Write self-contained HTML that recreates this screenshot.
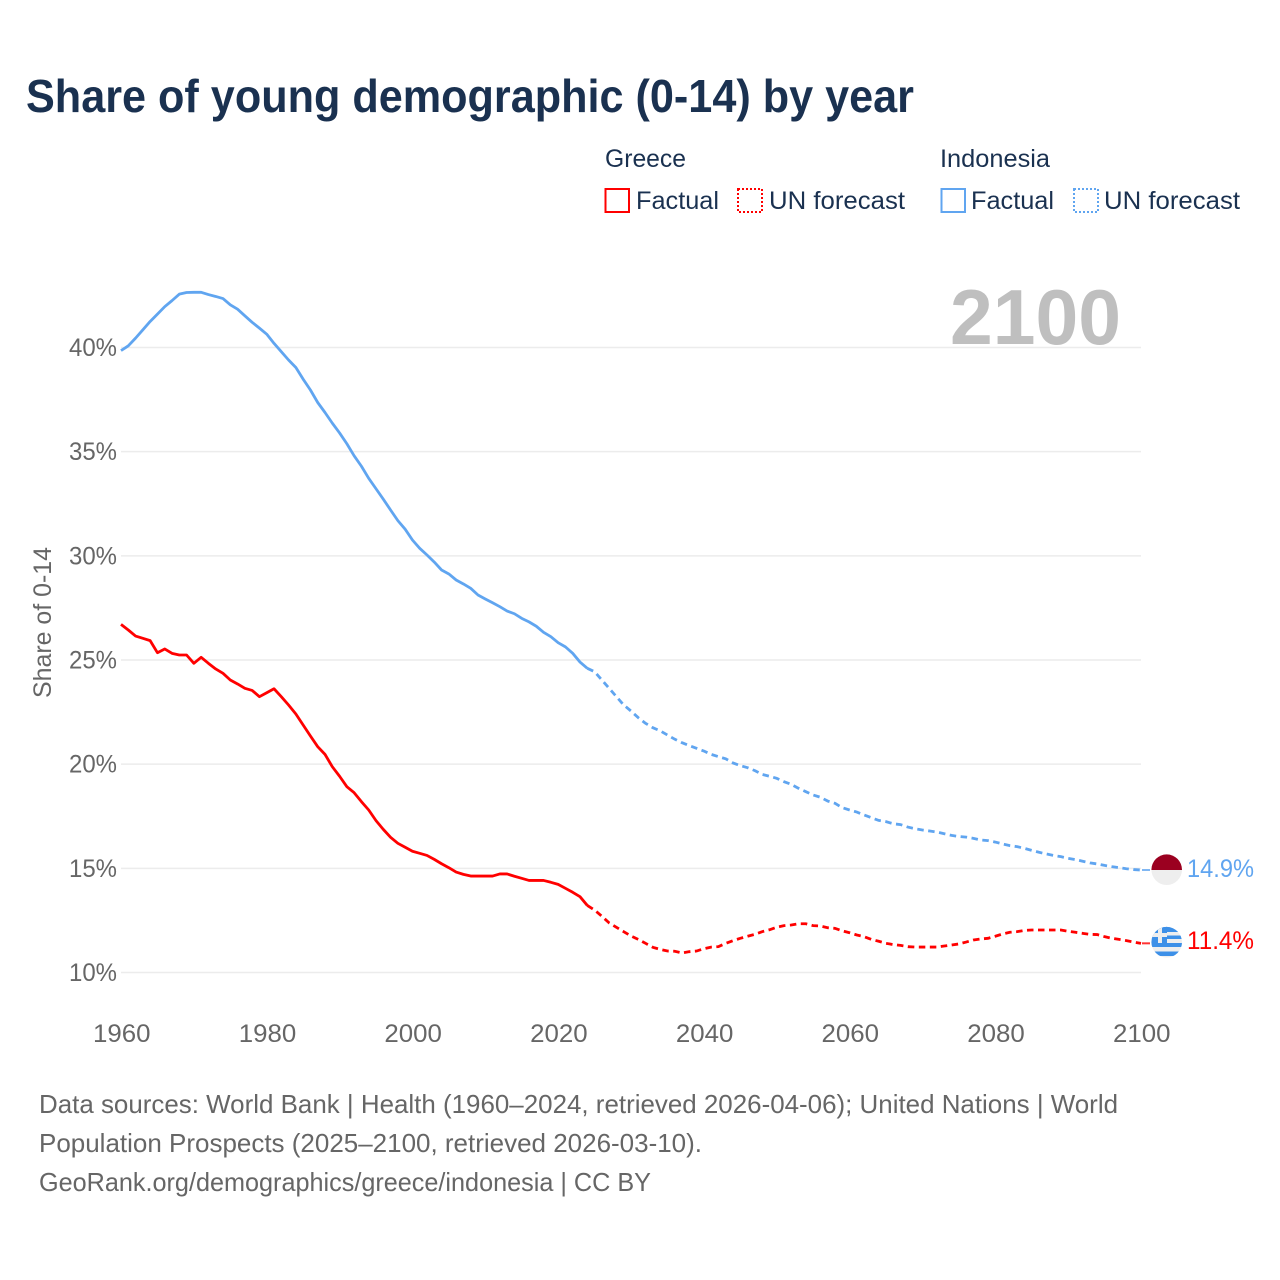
<!DOCTYPE html>
<html lang="en">
<head>
<meta charset="utf-8">
<title>Share of young demographic (0-14) by year</title>
<style>
html,body{margin:0;padding:0;background:#fff}
svg{display:block}
text{font-family:"Liberation Sans",sans-serif}
</style>
</head>
<body>
<svg id="chart" xmlns="http://www.w3.org/2000/svg" width="1280" height="1280" viewBox="0 0 1280 1280">
  <defs>
    <clipPath id="clip-id"><circle cx="1166.700" cy="869.700" r="15.300"/></clipPath>
    <clipPath id="clip-gr"><circle cx="1166.700" cy="942.200" r="15.300"/></clipPath>
  </defs>
  <rect width="1280" height="1280" fill="#fff"/>
  <text x="26" y="112" font-size="46" font-weight="700" fill="#1a3150" textLength="888" lengthAdjust="spacingAndGlyphs">Share of young demographic (0-14) by year</text>

  <g font-size="25" fill="#1a3150">
    <text x="605" y="167" textLength="81" lengthAdjust="spacingAndGlyphs">Greece</text>
    <rect x="605.500" y="189" width="23.500" height="23" fill="none" stroke="#ff0000" stroke-width="2"/>
    <text x="636" y="209" textLength="83" lengthAdjust="spacingAndGlyphs">Factual</text>
    <rect x="738" y="189" width="24" height="23" fill="none" stroke="#ff0000" stroke-width="2" stroke-dasharray="2 2"/>
    <text x="769" y="209" textLength="136" lengthAdjust="spacingAndGlyphs">UN forecast</text>
    <text x="940" y="167" textLength="110" lengthAdjust="spacingAndGlyphs">Indonesia</text>
    <rect x="941.500" y="189" width="23.500" height="23" fill="none" stroke="#60a5f0" stroke-width="2"/>
    <text x="971" y="209" textLength="83" lengthAdjust="spacingAndGlyphs">Factual</text>
    <rect x="1074" y="189" width="24" height="23" fill="none" stroke="#60a5f0" stroke-width="2" stroke-dasharray="2 2"/>
    <text x="1104" y="209" textLength="136" lengthAdjust="spacingAndGlyphs">UN forecast</text>
  </g>

  <g id="grid"></g>
  <text x="950" y="344" font-size="78" font-weight="700" fill="#bfbfbf" textLength="171" lengthAdjust="spacingAndGlyphs">2100</text>
  <g id="yticks" font-size="25" fill="#666"></g>
  <g id="xticks" font-size="25" fill="#666"></g>
  <text transform="translate(51 698) rotate(-90)" font-size="25" fill="#666" textLength="151" lengthAdjust="spacingAndGlyphs">Share of 0-14</text>
  <g id="series"></g>

  <g clip-path="url(#clip-id)">
    <rect x="1151" y="854" width="32" height="16" fill="#9b0020"/>
    <rect x="1151" y="870" width="32" height="16" fill="#eeeeee"/>
  </g>
  <g clip-path="url(#clip-gr)">
    <rect x="1151" y="926" width="32" height="33" fill="#eeeeee"/>
    <rect x="1151" y="926" width="32" height="6" fill="#3d90e8"/>
    <rect x="1151" y="935.500" width="32" height="3.500" fill="#3d90e8"/>
    <rect x="1151" y="943" width="32" height="4" fill="#3d90e8"/>
    <rect x="1151" y="951.500" width="32" height="4.500" fill="#3d90e8"/>
    <rect x="1151" y="926" width="16" height="17" fill="#3d90e8"/>
    <rect x="1158" y="926" width="4" height="17" fill="#eeeeee"/>
    <rect x="1151" y="933" width="16" height="4" fill="#eeeeee"/>
  </g>
  <g id="endlabels" font-size="25"></g>

  <g font-size="26" fill="#666">
    <text x="39" y="1113" textLength="1079" lengthAdjust="spacingAndGlyphs">Data sources: World Bank | Health (1960–2024, retrieved 2026-04-06); United Nations | World</text>
    <text x="39" y="1152" textLength="663" lengthAdjust="spacingAndGlyphs">Population Prospects (2025–2100, retrieved 2026-03-10).</text>
    <text x="39" y="1191" textLength="612" lengthAdjust="spacingAndGlyphs">GeoRank.org/demographics/greece/indonesia | CC BY</text>
  </g>
</svg>
<script>
const startYear = 1960;
const lastFactualYear = 2024;
const xTickYears = [1960, 1980, 2000, 2020, 2040, 2060, 2080, 2100];
const yTickValues = [10, 15, 20, 25, 30, 35, 40];
const greeceValues = [
26.71,26.44,26.15,26.04,25.93,25.35,25.53,25.32,25.24,25.24,
24.84,25.13,24.84,24.57,24.36,24.04,23.85,23.64,23.54,23.24,
23.43,23.62,23.24,22.84,22.41,21.88,21.35,20.84,20.47,19.88,
19.42,18.92,18.63,18.20,17.80,17.29,16.87,16.49,16.20,16.01,
15.82,15.72,15.62,15.43,15.22,15.03,14.82,14.71,14.63,14.63,
14.63,14.63,14.73,14.73,14.62,14.52,14.42,14.42,14.42,14.33,
14.23,14.04,13.85,13.64,13.22,13.00,12.70,12.38,12.17,11.96,
11.75,11.59,11.40,11.21,11.11,11.03,11.02,10.94,11.00,11.03,
11.14,11.22,11.24,11.40,11.53,11.64,11.74,11.83,11.96,12.05,
12.17,12.25,12.28,12.34,12.34,12.25,12.23,12.15,12.12,12.00,
11.91,11.80,11.72,11.59,11.50,11.40,11.34,11.30,11.24,11.22,
11.22,11.22,11.22,11.27,11.32,11.37,11.46,11.56,11.61,11.64,
11.74,11.85,11.93,11.96,12.02,12.04,12.04,12.04,12.04,12.04,
11.98,11.93,11.88,11.83,11.82,11.72,11.64,11.59,11.53,11.46,11.40];
const indonesiaValues = [
39.85,40.08,40.45,40.85,41.25,41.60,41.96,42.25,42.56,42.64,
42.65,42.65,42.54,42.45,42.35,42.05,41.84,41.52,41.21,40.93,
40.64,40.20,39.80,39.40,39.04,38.48,37.96,37.36,36.88,36.37,
35.90,35.38,34.80,34.30,33.72,33.22,32.72,32.20,31.69,31.28,
30.76,30.36,30.04,29.70,29.32,29.13,28.84,28.65,28.44,28.12,
27.93,27.75,27.56,27.35,27.22,27.00,26.83,26.62,26.33,26.12,
25.83,25.63,25.32,24.90,24.60,24.44,24.04,23.64,23.24,22.84,
22.55,22.23,21.96,21.75,21.60,21.40,21.20,21.03,20.89,20.76,
20.63,20.47,20.36,20.26,20.06,19.93,19.83,19.69,19.51,19.42,
19.32,19.16,19.03,18.84,18.68,18.52,18.41,18.23,18.12,17.91,
17.80,17.70,17.56,17.43,17.30,17.24,17.14,17.10,16.98,16.90,
16.84,16.79,16.74,16.66,16.58,16.53,16.50,16.44,16.36,16.33,
16.26,16.17,16.09,16.04,15.96,15.86,15.77,15.69,15.62,15.56,
15.48,15.42,15.34,15.26,15.21,15.14,15.08,15.03,14.98,14.94,14.92];

const SVG_NS = 'http://www.w3.org/2000/svg';
const xOf = function (year) { return 121 + (year - 1960) * (1141 - 121) / 140; };
const yOf = function (value) { return 972.5 - (value - 10) * (972.5 - 347.5) / 30; };
const make = function (tag, parent) {
  const node = document.createElementNS(SVG_NS, tag);
  parent.appendChild(node);
  return node;
};
const pointsFor = function (values, fromIndex, toIndex) {
  const out = [];
  for (let i = fromIndex; i <= toIndex; i++) {
    out.push(xOf(startYear + i).toFixed(2) + ',' + yOf(values[i]).toFixed(2));
  }
  return out.join(' ');
};

const gridLayer = document.getElementById('grid');
const yTickLayer = document.getElementById('yticks');
yTickValues.forEach(function (value) {
  const line = make('line', gridLayer);
  
  
  line.setAttribute('x1', 121);
  line.setAttribute('x2', 1141);
  line.setAttribute('y1', yOf(value));
  line.setAttribute('y2', yOf(value));
  line.setAttribute('stroke', '#ececec');
  line.setAttribute('stroke-width', '1.5');
  const label = make('text', yTickLayer);
  
  
  label.setAttribute('x', 69);
  label.setAttribute('y', yOf(value) + 8.5);
  label.setAttribute('textLength', 48);
  label.setAttribute('lengthAdjust', 'spacingAndGlyphs');
  label.textContent = value + '%';
});

const xTickLayer = document.getElementById('xticks');
xTickYears.forEach(function (year) {
  const label = make('text', xTickLayer);
  
  
  label.setAttribute('x', xOf(year) - 28);
  label.setAttribute('y', 1042);
  label.setAttribute('textLength', 57.5);
  label.setAttribute('lengthAdjust', 'spacingAndGlyphs');
  label.textContent = String(year);
});

const seriesLayer = document.getElementById('series');
const splitIndex = lastFactualYear - startYear;
const drawSeries = function (values, color, nameBase) {
  const lastIndex = values.length - 1;
  const factual = make('polyline', seriesLayer);
  
  
  factual.setAttribute('points', pointsFor(values, 0, splitIndex));
  factual.setAttribute('fill', 'none');
  factual.setAttribute('stroke', color);
  factual.setAttribute('stroke-width', '2.8');
  factual.setAttribute('stroke-linejoin', 'round');
  const forecast = make('polyline', seriesLayer);
  
  
  forecast.setAttribute('points', pointsFor(values, splitIndex, lastIndex));
  forecast.setAttribute('fill', 'none');
  forecast.setAttribute('stroke', color);
  forecast.setAttribute('stroke-width', '2.8');
  forecast.setAttribute('stroke-dasharray', '6.5 4.5');
  const connector = make('line', seriesLayer);
  
  
  connector.setAttribute('x1', xOf(startYear + lastIndex) + 1);
  connector.setAttribute('x2', xOf(startYear + lastIndex) + 9);
  connector.setAttribute('y1', yOf(values[lastIndex]));
  connector.setAttribute('y2', yOf(values[lastIndex]));
  connector.setAttribute('stroke', color);
  connector.setAttribute('stroke-width', '2');
  connector.setAttribute('stroke-opacity', '0.8');
};
drawSeries(greeceValues, '#ff0000', 'greece');
drawSeries(indonesiaValues, '#60a5f0', 'indonesia');

const endLayer = document.getElementById('endlabels');
const idLabel = make('text', endLayer);


idLabel.setAttribute('x', 1187);
idLabel.setAttribute('y', 877);
idLabel.setAttribute('fill', '#60a5f0');
idLabel.setAttribute('textLength', 67);
idLabel.setAttribute('lengthAdjust', 'spacingAndGlyphs');
idLabel.textContent = indonesiaValues[indonesiaValues.length - 1].toFixed(1) + '%';
const grLabel = make('text', endLayer);


grLabel.setAttribute('x', 1187);
grLabel.setAttribute('y', 949);
grLabel.setAttribute('fill', '#ff0000');
grLabel.setAttribute('textLength', 67);
grLabel.setAttribute('lengthAdjust', 'spacingAndGlyphs');
grLabel.textContent = greeceValues[greeceValues.length - 1].toFixed(1) + '%';
</script>
</body>
</html>
